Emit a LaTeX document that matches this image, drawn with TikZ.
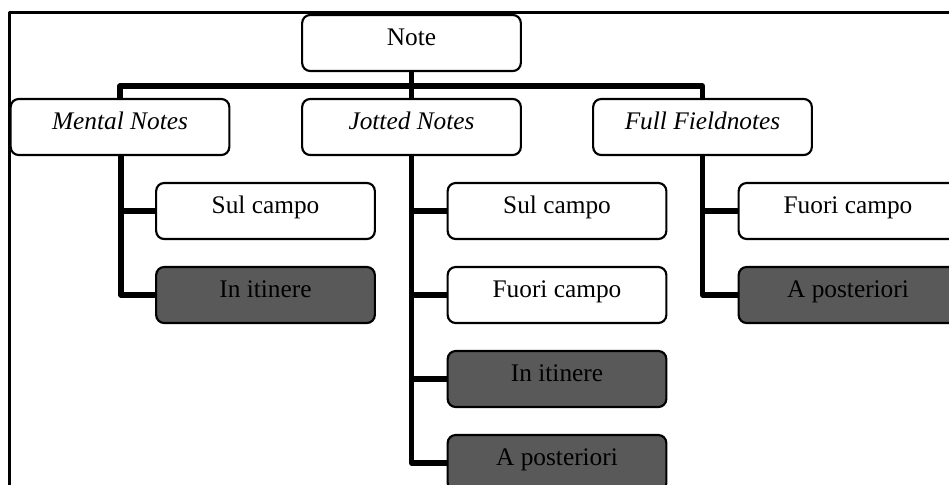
\documentclass[tikz,border=0pt]{standalone}
\usepackage{fontspec}
\setmainfont{Liberation Serif}
\definecolor{darkbox}{HTML}{595959}
\tikzset{>=latex,
    box/.style={draw, line width=1.6pt, rounded corners=6pt, fill=white,
        minimum width=164pt, inner sep=0pt, text height=23pt, text depth=19pt,
        font=\fontsize{19}{21}\selectfont},
    darkbox/.style={box, fill=darkbox},
    link/.style={line width=4pt}
}

\begin{document}
\begin{tikzpicture}[x=0.75pt, y=-0.75pt, line join = round]
    \useasboundingbox (0,0) rectangle (949,485);
    \clip (0,0) rectangle (949,485);
    \draw[line width=1.6pt] (9.5,490) -- (9.5,12.5) -- (955,12.5);

    % top levels
    \node[box] (note)   at (411.5,43) {Note};
    \node[box] (mental) at (120,127) {\itshape Mental Notes};
    \node[box] (jotted) at (411.5,127) {\itshape Jotted Notes};
    \node[box] (full)   at (702.5,127) {\itshape Full Fieldnotes};
    \coordinate (bus) at (411.5,86);

    % children
    \node[box]     (ms) at (265.5,211) {Sul campo};
    \node[darkbox] (mi) at (265.5,295) {In itinere};
    \foreach \n/\y/\t/\s in {js/211/Sul campo/box, jf/295/Fuori campo/box,
        ji/379/In itinere/darkbox, jp/463/A posteriori/darkbox}
    {
    \node[\s] (\n) at (557,\y) {\t};
    }
    \node[box]     (ff) at (848,211) {Fuori campo};
    \node[darkbox] (fp) at (848,295) {A posteriori};

    % connectors
    \draw[link] (note) -- (jotted);
    \draw[link] (mental.north) |- (bus) -| (full.north);
    \foreach \c in {ms,mi}
        \draw[link] ([xshift=0.75pt]mental.south) |- (\c.west);
    \foreach \c in {js,jf,ji,jp}
        \draw[link] (jotted.south) |- (\c.west);
    \foreach \c in {ff,fp}
        \draw[link] (full.south) |- (\c.west);
\end{tikzpicture}
\end{document}
